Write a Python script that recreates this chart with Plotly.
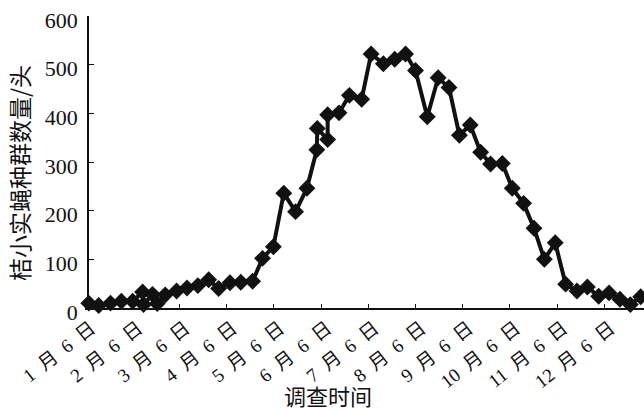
import plotly.graph_objects as go

# x positions in months after "1月6日" (0 = 1月6日, 1 = 2月6日, ...)
months = [0.08, 0.29, 0.54, 0.77, 1.01, 1.22, 1.24, 1.43, 1.53, 1.70,
          1.94, 2.16, 2.39, 2.62, 2.83, 3.07, 3.30, 3.55, 3.76, 3.99,
          4.21, 4.46, 4.70, 4.91, 4.92, 5.14, 5.14, 5.38, 5.60, 5.86,
          6.06, 6.32, 6.56, 6.79, 7.00, 7.25, 7.48, 7.71, 7.93, 8.16,
          8.38, 8.59, 8.84, 9.05, 9.29, 9.51, 9.73, 9.96, 10.18, 10.42,
          10.64, 10.88, 11.10, 11.33, 11.55, 11.77]
counts = [10, 5, 10, 14, 14, 33, 7, 28, 9, 27,
          35, 41, 46, 58, 40, 52, 53, 55, 102, 126,
          236, 198, 246, 325, 369, 346, 397, 401, 437, 429,
          522, 502, 511, 522, 488, 393, 473, 453, 355, 376,
          320, 296, 297, 246, 215, 164, 100, 134, 49, 35,
          43, 24, 31, 18, 7, 23]

tick_vals = list(range(12))
sp = "\u2002"
tick_text = [f"{m}{sp}月{sp}6{sp}日" for m in range(1, 13)]
y_ticks = [0, 100, 200, 300, 400, 500, 600]

fig = go.Figure()
fig.add_trace(go.Scatter(
    x=months, y=counts, mode="lines+markers",
    line=dict(color="#111111", width=4),
    marker=dict(symbol="diamond", size=13, color="#111111"),
    cliponaxis=False, showlegend=False,
))

serif = "'Liberation Serif', 'Noto Sans CJK SC', serif"
L, R, T, B = 85, 0, 16, 103
fig.update_layout(
    width=644, height=411,
    margin=dict(l=L, r=R, t=T, b=B, autoexpand=False),
    paper_bgcolor="white", plot_bgcolor="white",
    xaxis=dict(
        range=[0, 11.84], tickmode="array", tickvals=tick_vals, ticktext=tick_text,
        tickangle=-38, ticks="inside", ticklen=4, tickwidth=1.2, tickcolor="#111",
        showline=True, linecolor="#111", linewidth=1.5, showgrid=False, zeroline=False,
        tickfont=dict(family=serif, size=19, color="#111"),
        ticklabelshift=6, ticklabelstandoff=0, automargin=False,
    ),
    yaxis=dict(
        range=[0, 600], tickmode="array", tickvals=y_ticks,
        ticks="inside", ticklen=5, tickwidth=1.2, tickcolor="#111",
        showline=True, linecolor="#111", linewidth=1.5, showgrid=False, zeroline=False,
        tickfont=dict(family=serif, size=22, color="#111"),
        anchor="free", position=3 / 559,
        ticklabelstandoff=5, ticklabelshift=4, automargin=False,
    ),
)
W, H = 644 - L - R, 411 - T - B
fig.add_annotation(text="桔小实蝇种群数量/头", x=(19 - L) / W, y=(411 - B - 173) / H,
                   xref="paper", yref="paper", xanchor="center", yanchor="middle",
                   showarrow=False, textangle=-90,
                   font=dict(family="Noto Sans CJK SC", size=23, color="#111"))
fig.add_annotation(text="调查时间", x=(328 - L) / W, y=(411 - B - 395) / H,
                   xref="paper", yref="paper", xanchor="center", yanchor="middle",
                   showarrow=False,
                   font=dict(family="Noto Sans CJK SC", size=22, color="#111"))

fig.write_html("out.html", config={"displayModeBar": False},
               post_script="document.body.style.margin='0';")
